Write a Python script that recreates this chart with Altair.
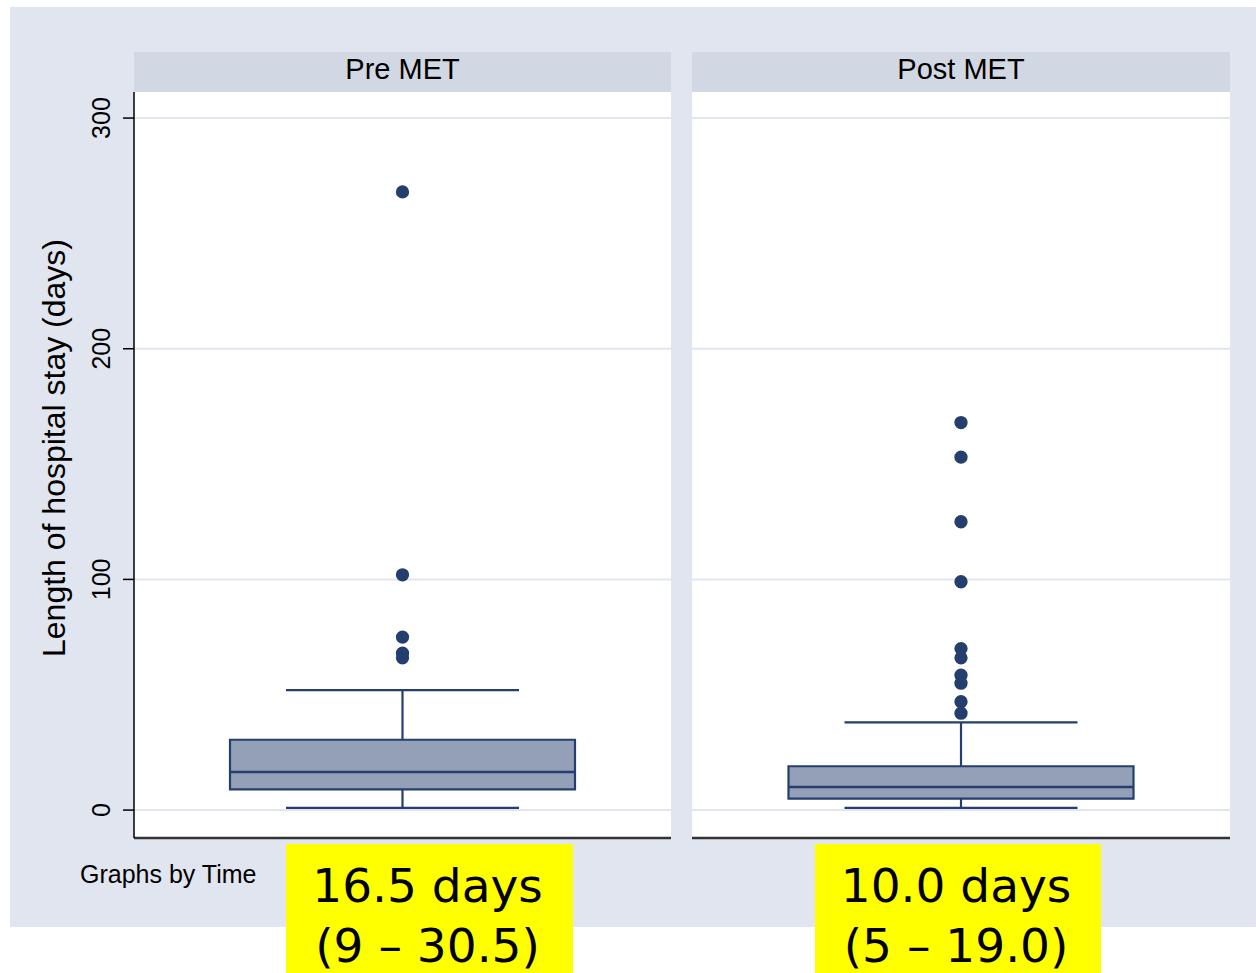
import altair as alt
import pandas as pd

# ---- data -------------------------------------------------------------
GROUPS = ["Pre MET", "Post MET"]
Q1 = [9, 5]
MEDIAN = [16.5, 10.0]
Q3 = [30.5, 19.0]
WHISK_LO = [1, 1]
WHISK_HI = [52, 38]
OUTLIERS_PRE = [268, 102, 75, 68, 66]
OUTLIERS_POST = [168, 153, 125, 99, 70, 66, 58.5, 55, 47, 42]
Y_TICKS = [0, 100, 200, 300]
Y_DOMAIN = [-12.1, 311.3]
Y_TITLE = "Length of hospital stay (days)"
NOTE = "Graphs by Time"

# ---- styling ------------------------------------------------------------
BG = "#E0E5EF"
HEADER = "#D1D8E3"
GRID = "#E0E5EF"
NAVY = "#243F6E"
BOX_FILL = "#94A0B8"
YELLOW = "#FFFF00"
AXIS_DARK = "#333333"
FONT = "Liberation Sans"

PANEL_H = 746
PANEL_W = [537, 538]
BOX_W = 345
CAP_W = 233
TICK_LEN = 11

# outer frame, in pixels relative to the first panel's origin
FRAME = dict(left=-134, right=1122, top=-92, bottom=881)
GRAPH_REGION = dict(left=-124, top=-85, bottom=835)

# highlight boxes under each panel (x from, x to) in panel pixels
HILITE_X = [(152, 439), (123, 409)]


def fmt_median(m):
    return f"{m:.1f} days"


def fmt_iqr(a, b):
    return f"({a:g} \u2013 {b:.1f})"


def panel(i, outliers, first):
    g = GROUPS[i]
    w = PANEL_W[i]
    summ = pd.DataFrame({
        "time": [g], "q1": [Q1[i]], "median": [MEDIAN[i]], "q3": [Q3[i]],
        "lo": [WHISK_LO[i]], "hi": [WHISK_HI[i]],
        "line1": [fmt_median(MEDIAN[i])], "line2": [fmt_iqr(Q1[i], Q3[i])],
    })
    pts = pd.DataFrame({"time": [g] * len(outliers), "los": outliers})
    grid = pd.DataFrame({"v": Y_TICKS, "lab": [str(t) for t in Y_TICKS]})
    base = pd.DataFrame({"v": [Y_DOMAIN[0]]})
    one = pd.DataFrame({"k": [0]})

    yscale = alt.Scale(domain=Y_DOMAIN, nice=False, zero=False)
    xscale = alt.Scale(domain=[g])
    x_plain = alt.X("time:N", scale=xscale, axis=None)

    layers = []
    if first:
        # white page, then the tinted graph region on top of it
        layers.append(
            alt.Chart(one).mark_rect(color="white").encode(
                x=alt.value(FRAME["left"]), x2=alt.value(FRAME["right"]),
                y=alt.value(FRAME["top"]), y2=alt.value(FRAME["bottom"]),
            )
        )
        layers.append(
            alt.Chart(one).mark_rect(color=BG).encode(
                x=alt.value(GRAPH_REGION["left"]), x2=alt.value(FRAME["right"]),
                y=alt.value(GRAPH_REGION["top"]), y2=alt.value(GRAPH_REGION["bottom"]),
            )
        )
        # plot area fill (the region rect above covers the view fill)
        layers.append(
            alt.Chart(one).mark_rect(color="white").encode(
                x=alt.value(0), x2=alt.value(w), y=alt.value(0), y2=alt.value(PANEL_H)
            )
        )

    # panel header strip
    layers.append(
        alt.Chart(one).mark_rect(color=HEADER).encode(
            x=alt.value(0), x2=alt.value(w), y=alt.value(-40), y2=alt.value(0)
        )
    )
    layers.append(
        alt.Chart(summ).mark_text(font=FONT, fontSize=29, color="black",
                                  baseline="alphabetic", align="center").encode(
            x=alt.value(w / 2), y=alt.value(-13), text="time:N"
        )
    )

    # horizontal gridlines
    layers.append(
        alt.Chart(grid).mark_rule(color=GRID, strokeWidth=2).encode(
            y=alt.Y("v:Q", scale=yscale, axis=None)
        )
    )
    # bottom axis line
    layers.append(
        alt.Chart(base).mark_rule(color=AXIS_DARK, strokeWidth=2.5).encode(
            y=alt.Y("v:Q", scale=yscale, axis=None)
        )
    )

    if first:
        # left axis: line, ticks, rotated labels and title
        layers.append(
            alt.Chart(one).mark_rule(color="black", strokeWidth=1.5).encode(
                x=alt.value(0), y=alt.value(0), y2=alt.value(PANEL_H)
            )
        )
        layers.append(
            alt.Chart(grid).mark_rule(color="black", strokeWidth=1.5).encode(
                x=alt.value(-TICK_LEN), x2=alt.value(0),
                y=alt.Y("v:Q", scale=yscale, axis=None),
            )
        )
        layers.append(
            alt.Chart(grid).mark_text(font=FONT, fontSize=25, color="black", angle=270,
                                      align="center", baseline="alphabetic").encode(
                x=alt.value(-24), y=alt.Y("v:Q", scale=yscale, axis=None), text="lab:N"
            )
        )
        layers.append(
            alt.Chart(one).mark_text(font=FONT, fontSize=32, color="black", angle=270,
                                     align="center", baseline="alphabetic").encode(
                x=alt.value(-69), y=alt.value(356), text=alt.value(Y_TITLE)
            )
        )

    # whisker line
    layers.append(
        alt.Chart(summ).mark_rule(color=NAVY, strokeWidth=2.2).encode(
            x=x_plain, y=alt.Y("lo:Q", scale=yscale, axis=None), y2="hi:Q"
        )
    )
    # box
    layers.append(
        alt.Chart(summ).mark_bar(size=BOX_W, fill=BOX_FILL, stroke=NAVY,
                                 strokeWidth=2.2, opacity=1).encode(
            x=x_plain, y=alt.Y("q1:Q", scale=yscale, axis=None), y2="q3:Q",
        )
    )
    # median
    layers.append(
        alt.Chart(summ).mark_tick(size=BOX_W, thickness=2.6, color=NAVY, opacity=1).encode(
            x=x_plain, y=alt.Y("median:Q", scale=yscale, axis=None)
        )
    )
    # whisker caps
    for col in ["lo", "hi"]:
        layers.append(
            alt.Chart(summ).mark_tick(size=CAP_W, thickness=2.2, color=NAVY, opacity=1).encode(
                x=x_plain, y=alt.Y(f"{col}:Q", scale=yscale, axis=None)
            )
        )
    # outside values
    layers.append(
        alt.Chart(pts).mark_circle(size=177, color=NAVY, opacity=1).encode(
            x=x_plain, y=alt.Y("los:Q", scale=yscale, axis=None)
        )
    )

    # median / IQR callout
    hx0, hx1 = HILITE_X[i]
    layers.append(
        alt.Chart(one).mark_rect(color=YELLOW).encode(
            x=alt.value(hx0), x2=alt.value(hx1), y=alt.value(752), y2=alt.value(FRAME["bottom"])
        )
    )
    for col, yy in [("line1", 810), ("line2", 870)]:
        layers.append(
            alt.Chart(summ).mark_text(font="DejaVu Sans", fontSize=47, color="black",
                                      align="center", baseline="alphabetic").encode(
                x=alt.value((hx0 + hx1) / 2 - 2), y=alt.value(yy), text=f"{col}:N"
            )
        )

    if first:
        layers.append(
            alt.Chart(one).mark_text(font=FONT, fontSize=25, color="black",
                                     align="left", baseline="alphabetic").encode(
                x=alt.value(-54), y=alt.value(791), text=alt.value(NOTE)
            )
        )

    return alt.layer(*layers).properties(width=w, height=PANEL_H)


chart = alt.hconcat(
    panel(0, OUTLIERS_PRE, True),
    panel(1, OUTLIERS_POST, False),
    spacing=21,
    bounds="flush",
).properties(
    padding=0,
    background="white",
).configure_view(
    fill="white", strokeWidth=0
)

chart.save("out.html", embed_options={"renderer": "svg", "actions": False})
